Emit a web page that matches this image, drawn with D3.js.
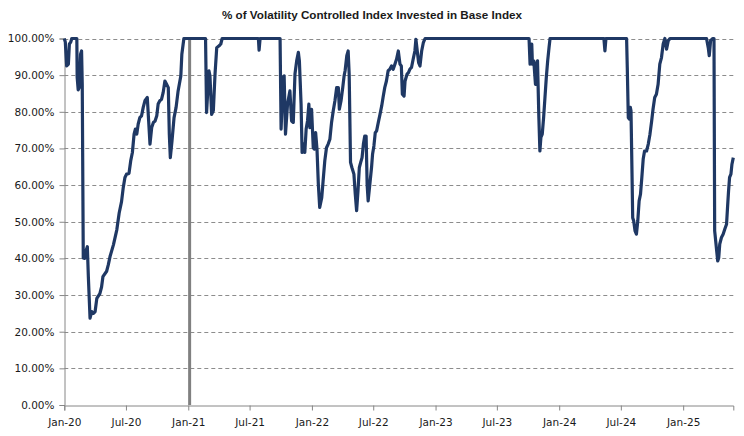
<!DOCTYPE html>
<html>
<head>
<meta charset="utf-8">
<script src="https://cdn.jsdelivr.net/npm/d3@7/dist/d3.min.js"></script>
<style>
  html, body { margin: 0; padding: 0; background: #ffffff; }
  svg { display: block; }
</style>
</head>
<body>
<div id="chart"></div>
<script>
// ---------------- DATA ----------------
const chartTitle = "% of Volatility Controlled Index Invested in Base Index";

const dates = [
  "2020-01-01","2020-01-04","2020-01-08","2020-01-13","2020-01-16","2020-01-20","2020-01-23","2020-02-07","2020-02-08","2020-02-11",
  "2020-02-14","2020-02-18","2020-02-21","2020-02-23","2020-02-26","2020-03-01","2020-03-05","2020-03-09","2020-03-12","2020-03-17",
  "2020-03-22","2020-03-27","2020-04-01","2020-04-06","2020-04-15","2020-04-20","2020-04-24","2020-05-05","2020-05-10","2020-05-15",
  "2020-05-25","2020-06-04","2020-06-11","2020-06-18","2020-06-23","2020-06-28","2020-07-03","2020-07-10","2020-07-15","2020-07-20",
  "2020-07-25","2020-07-29","2020-08-02","2020-08-06","2020-08-11","2020-08-16","2020-08-21","2020-08-26","2020-09-02","2020-09-06",
  "2020-09-10","2020-09-15","2020-09-20","2020-09-25","2020-09-30","2020-10-04","2020-10-09","2020-10-14","2020-10-19","2020-10-24",
  "2020-10-29","2020-11-03","2020-11-06","2020-11-09","2020-11-14","2020-11-20","2020-11-26","2020-12-02","2020-12-10","2020-12-13",
  "2020-12-19",
  "2021-02-21","2021-02-24","2021-03-03","2021-03-06","2021-03-11","2021-03-16","2021-03-21","2021-03-26","2021-04-02","2021-04-07",
  "2021-04-11","2021-07-27","2021-07-29","2021-08-01","2021-09-29","2021-10-02","2021-10-08","2021-10-11","2021-10-15","2021-10-21",
  "2021-10-28","2021-11-02","2021-11-07","2021-11-12","2021-11-17","2021-11-22","2021-11-25","2021-11-30","2021-12-03","2021-12-08",
  "2021-12-11","2021-12-15","2021-12-19","2021-12-23","2021-12-26","2021-12-31",
  "2022-01-05","2022-01-08","2022-01-12","2022-01-16","2022-01-20","2022-01-24","2022-01-30","2022-02-03","2022-02-08","2022-02-13",
  "2022-02-18","2022-02-23","2022-02-28","2022-03-05","2022-03-10","2022-03-15","2022-03-20","2022-03-23","2022-03-28","2022-04-02",
  "2022-04-06","2022-04-09","2022-04-14","2022-04-18","2022-04-21","2022-04-25","2022-04-29","2022-05-05","2022-05-09","2022-05-13",
  "2022-05-17","2022-05-21","2022-05-25","2022-05-29","2022-06-02","2022-06-06","2022-06-10","2022-06-13","2022-06-16","2022-06-21",
  "2022-06-26","2022-06-29","2022-07-03","2022-07-07","2022-07-11","2022-07-16","2022-07-21","2022-07-26","2022-07-30","2022-08-04",
  "2022-08-09","2022-08-14","2022-08-19","2022-08-24","2022-08-29","2022-09-03","2022-09-08","2022-09-13","2022-09-18","2022-09-22",
  "2022-09-25","2022-09-30","2022-10-03","2022-10-09","2022-10-13","2022-10-17","2022-10-22","2022-10-27","2022-11-01","2022-11-04",
  "2022-11-08","2022-11-12","2022-11-16","2022-11-21","2022-11-26","2022-12-01",
  "2023-10-04","2023-10-07","2023-10-12","2023-10-14","2023-10-18","2023-10-23","2023-10-26","2023-10-29","2023-11-02","2023-11-05",
  "2023-11-08","2023-11-12","2023-11-16","2023-11-20","2023-11-24","2023-11-28","2023-12-02","2023-12-05",
  "2024-05-12","2024-05-15","2024-05-18","2024-07-18","2024-07-20","2024-07-23","2024-07-26","2024-07-29","2024-07-31","2024-08-03",
  "2024-08-05","2024-08-08","2024-08-12","2024-08-16","2024-08-20","2024-08-24","2024-08-28","2024-09-01","2024-09-05","2024-09-09",
  "2024-09-15","2024-09-20","2024-09-25","2024-09-30","2024-10-04","2024-10-09","2024-10-14","2024-10-19","2024-10-24","2024-10-29",
  "2024-11-03","2024-11-08","2024-11-13","2024-11-18","2024-11-23",
  "2025-03-11","2025-03-16","2025-03-19","2025-03-23","2025-03-29","2025-04-02","2025-04-04","2025-04-05","2025-04-10","2025-04-13",
  "2025-04-16","2025-04-19","2025-04-24","2025-04-29","2025-05-04","2025-05-09","2025-05-12","2025-05-15","2025-05-18","2025-05-22",
  "2025-05-25","2025-05-29"
];

const pctInvested = [
  100,99,92.5,93,98.5,99,100,100,89.4,86,
  86.6,95.7,96.6,87.5,40.1,40,42,43.2,35,23.7,
  25.5,25,25.5,29.1,30.4,32.2,35,36.5,38.3,40.5,
  43.7,47.8,52.4,55.5,59.3,62.1,63,63.2,66.6,68.9,
  73.9,75.3,73.9,76.6,78.4,78.9,81.2,83,83.9,77.5,
  71.2,75.7,77.1,77.5,78.9,82.1,83,83.4,85.3,88.4,
  87.5,86.6,73.9,67.5,72.1,78.4,81.2,85.7,89.8,95.7,
  100,
  100,79.8,91.2,89.8,79.3,80.3,90.3,97.5,98,98.5,
  100,100,96.8,100,100,75.3,89.4,89.8,73.9,82.1,
  85.7,77.5,77.1,90.3,93.9,96.2,93.9,82.1,68.9,71.2,
  68.9,75.3,77.5,82.1,75.7,80.7,
  70.2,69.8,74.3,69.8,60.2,53.9,56.6,61.1,66.6,70.2,
  71.2,72.5,77.1,80.3,83,86.6,86.6,80.7,83,86.6,
  89.8,91.2,95.3,96.6,90.3,66.2,64.8,63,57.5,53,
  58.4,64.8,66.2,67.5,71.2,73.4,73.4,60.2,55.7,60.2,
  64.8,68.4,70.7,74.3,74.8,77.1,79.3,81.6,83.9,86.6,
  88.4,91.2,91.6,92.5,91.6,93,94.4,96.6,93,92.5,
  84.8,84.3,88.4,90.3,90.7,91.6,92.1,94.4,96.6,99.8,
  96.6,93.4,92.5,96.6,98.9,100,
  100,93,98.5,93,93.9,87.5,93,93.9,78.4,69.3,
  73,73.9,78.4,83.9,89.4,93.9,97.5,100,
  100,96.6,100,100,92.1,78.4,78,81.2,80.3,63,
  51.1,50.2,47.5,46.6,50.2,55.7,57.5,62.1,67.1,69.3,
  69.3,71.2,73.9,77.5,80.7,83.9,84.8,87.5,93,94.8,
  98.5,100,97.1,99.4,100,
  100,97.5,95.3,99.4,100,100,47.5,46.6,42,39.3,
  40.2,43.9,45.7,46.6,48,49.3,53.9,58.4,62.1,63,
  65.7,67.5
];

const yTickValues = [0,10,20,30,40,50,60,70,80,90,100];
const xTickDates = ["2020-01-01","2020-07-01","2021-01-01","2021-07-01","2022-01-01","2022-07-01",
                    "2023-01-01","2023-07-01","2024-01-01","2024-07-01","2025-01-01"];
const markerDates = ["2021-01-05"];
const xDomainDates = ["2020-01-01","2025-05-29"];

// ---------------- CHART ----------------
const W = 744, H = 436;
const margin = {left: 64.3, right: W - 733.3, top: 38.5, bottom: H - 405};
const parse = d3.timeParse("%Y-%m-%d");

const data = dates.map((d, i) => ({date: parse(d), v: pctInvested[i]}));

const svg = d3.select("#chart").append("svg")
  .attr("width", W).attr("height", H)
  .attr("viewBox", `0 0 ${W} ${H}`);

const x = d3.scaleTime()
  .domain(xDomainDates.map(parse))
  .range([margin.left, W - margin.right]);

const y = d3.scaleLinear()
  .domain([0, 100])
  .range([H - margin.bottom, margin.top]);

const axisColor = "#868686";
const gridColor = "#8c8c8c";
const labelFont = "'DejaVu Sans', Verdana, sans-serif";

// Gridlines
svg.append("g")
  .selectAll("line")
  .data(yTickValues.filter(v => v > 0))
  .join("line")
  .attr("x1", x.range()[0])
  .attr("x2", x.range()[1])
  .attr("y1", d => Math.round(y(d)) + 0.5)
  .attr("y2", d => Math.round(y(d)) + 0.5)
  .attr("stroke", gridColor)
  .attr("stroke-width", 1)
  .attr("stroke-dasharray", "4,3");

// Y axis
const yAxis = d3.axisLeft(y)
  .tickValues(yTickValues)
  .tickSize(5)
  .tickPadding(5)
  .tickFormat(d => d.toFixed(2) + "%");

const gy = svg.append("g")
  .attr("transform", `translate(${Math.round(margin.left) + 0.5},0)`)
  .call(yAxis);
gy.select(".domain").attr("stroke", axisColor);
gy.selectAll(".tick line").attr("stroke", axisColor);
gy.selectAll(".tick text")
  .attr("font-family", labelFont)
  .attr("font-size", 10.5)
  .attr("fill", "#1a1a1a");

// X axis
const xAxis = d3.axisBottom(x)
  .tickValues(xTickDates.map(parse))
  .tickSize(5)
  .tickPadding(8)
  .tickFormat(d3.timeFormat("%b-%y"));

const gx = svg.append("g")
  .attr("transform", `translate(0,${Math.round(H - margin.bottom) + 0.5})`)
  .call(xAxis);
gx.select(".domain").attr("stroke", axisColor);
gx.selectAll(".tick line").attr("stroke", axisColor);
gx.selectAll(".tick text")
  .attr("font-family", labelFont)
  .attr("font-size", 10.5)
  .attr("fill", "#1a1a1a");

// Vertical marker line
svg.append("g")
  .selectAll("line")
  .data(markerDates.map(parse))
  .join("line")
  .attr("x1", d => x(d)).attr("x2", d => x(d))
  .attr("y1", y(100)).attr("y2", y(0))
  .attr("stroke", "#808080")
  .attr("stroke-width", 3);

// Series line
const line = d3.line()
  .x(d => x(d.date))
  .y(d => y(d.v));

svg.append("path")
  .datum(data)
  .attr("fill", "none")
  .attr("stroke", "#1F3864")
  .attr("stroke-width", 3.2)
  .attr("stroke-linejoin", "round")
  .attr("d", line);

// Title
const title = svg.append("text")
  .attr("x", 372)
  .attr("y", 19)
  .attr("text-anchor", "middle")
  .attr("font-family", "'Liberation Sans', Arial, sans-serif")
  .attr("font-weight", "bold")
  .attr("font-size", 10.5)
  .attr("fill", "#1a1a1a")
  .text(chartTitle);
const tw = title.node().getComputedTextLength();
if (Math.abs(tw - 300) > 4) {
  title.attr("textLength", 300).attr("lengthAdjust", "spacingAndGlyphs");
}
</script>
</body>
</html>
